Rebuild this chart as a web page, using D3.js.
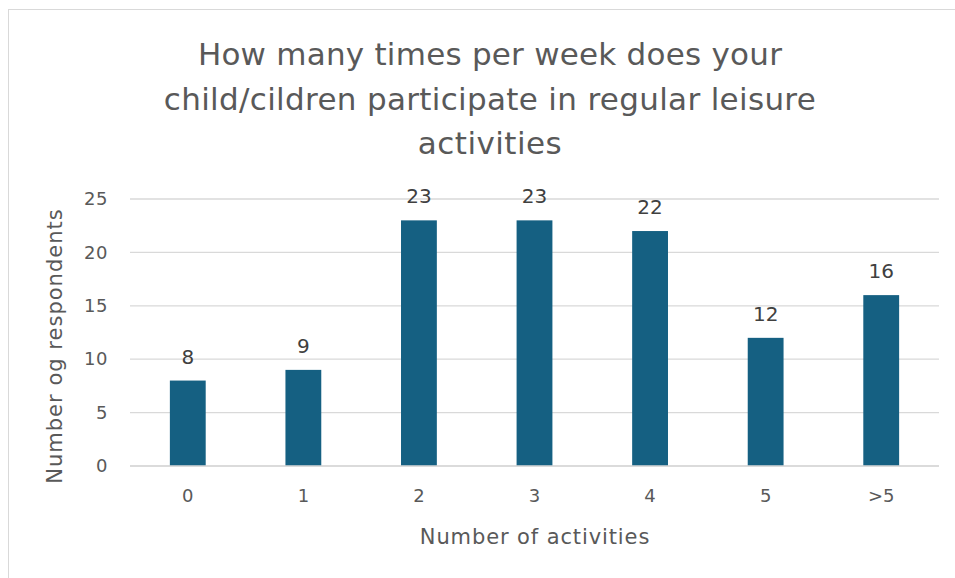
<!DOCTYPE html>
<html><head><meta charset="utf-8">
<script src="https://cdn.jsdelivr.net/npm/d3@7"></script>
<style>html,body{margin:0;padding:0;background:#fff;}svg{display:block;}</style>
</head><body>
<script>
const categories = ["0","1","2","3","4","5",">5"];
const values = [8, 9, 23, 23, 22, 12, 16];
const yTicks = [0, 5, 10, 15, 20, 25];
const titleLines = ["How many times per week does your", "child/cildren participate in regular leisure", "activities"];
const xTitle = "Number of activities";
const yTitle = "Number og respondents";

const W = 955, H = 578;
const font = "'DejaVu Sans', 'Open Sans', sans-serif";
const svg = d3.select("body").append("svg").attr("width", W).attr("height", H);
svg.append("rect").attr("x", 8.5).attr("y", 9.5).attr("width", W + 10).attr("height", H + 10)
  .attr("fill", "#fff").attr("stroke", "#d9d9d9").attr("stroke-width", 1);

// match the reference's line widths
function fitWidth(sel, target) {
  sel.each(function () {
    const t = d3.select(this);
    const len = this.getComputedTextLength();
    const n = t.text().length;
    if (n > 1) t.attr("letter-spacing", ((target - len) / (n - 0.5)).toFixed(2));
  });
}

const x = d3.scaleBand().domain(categories).range([130, 939]).paddingInner(0.69).paddingOuter(0.345);
const y = d3.scaleLinear().domain([0, 25]).range([466, 199]);

// gridlines
svg.append("g").selectAll("line").data(yTicks).join("line")
  .attr("x1", 130).attr("x2", 939).attr("y1", d => y(d)).attr("y2", d => y(d))
  .attr("stroke", "#d9d9d9").attr("stroke-width", 1.3);

// y axis labels
const yAxis = d3.axisLeft(y).tickValues(yTicks).tickSize(0).tickPadding(0);
const ga = svg.append("g").attr("transform", "translate(108,0)").call(yAxis);
ga.select(".domain").remove();
ga.selectAll("text").attr("font-family", font).attr("font-size", 18).attr("fill", "#595959")
  .attr("letter-spacing", 0.5);

// x axis labels
const xAxis = d3.axisBottom(x).tickSize(0).tickPadding(0);
const gx = svg.append("g").attr("transform", "translate(0,489)").call(xAxis);
gx.select(".domain").remove();
gx.selectAll("text").attr("font-family", font).attr("font-size", 18).attr("fill", "#595959");

// bars
svg.append("g").selectAll("rect").data(values).join("rect")
  .attr("x", (d, i) => x(categories[i])).attr("width", x.bandwidth())
  .attr("y", d => y(d)).attr("height", d => y(0) - y(d))
  .attr("fill", "#156082");

// baseline
svg.append("line").attr("x1", 130).attr("x2", 939).attr("y1", y(0)).attr("y2", y(0))
  .attr("stroke", "#d9d9d9").attr("stroke-width", 1.5);

// data labels
svg.append("g").selectAll("text").data(values).join("text")
  .attr("x", (d, i) => x(categories[i]) + x.bandwidth() / 2)
  .attr("y", d => y(d) - 17)
  .attr("text-anchor", "middle").attr("font-family", font).attr("font-size", 20).attr("fill", "#404040")
  .text(d => d);

// title
const titleTargets = [584, 652, 144];
const tt = svg.append("g").selectAll("text").data(titleLines).join("text")
  .attr("x", 490).attr("y", (d, i) => 65 + i * 44.5)
  .attr("text-anchor", "middle").attr("font-family", font).attr("font-size", 31).attr("fill", "#595959")
  .text(d => d);
tt.each(function (d, i) { fitWidth(d3.select(this), titleTargets[i]); });

// axis titles
const xt = svg.append("text").attr("x", 535).attr("y", 544).attr("text-anchor", "middle")
  .attr("font-family", font).attr("font-size", 21).attr("fill", "#595959").text(xTitle);
fitWidth(xt, 230);
const yt = svg.append("text").attr("transform", "translate(62,346) rotate(-90)").attr("text-anchor", "middle")
  .attr("font-family", font).attr("font-size", 21).attr("fill", "#595959").text(yTitle);
fitWidth(yt, 275);
</script>
</body></html>
